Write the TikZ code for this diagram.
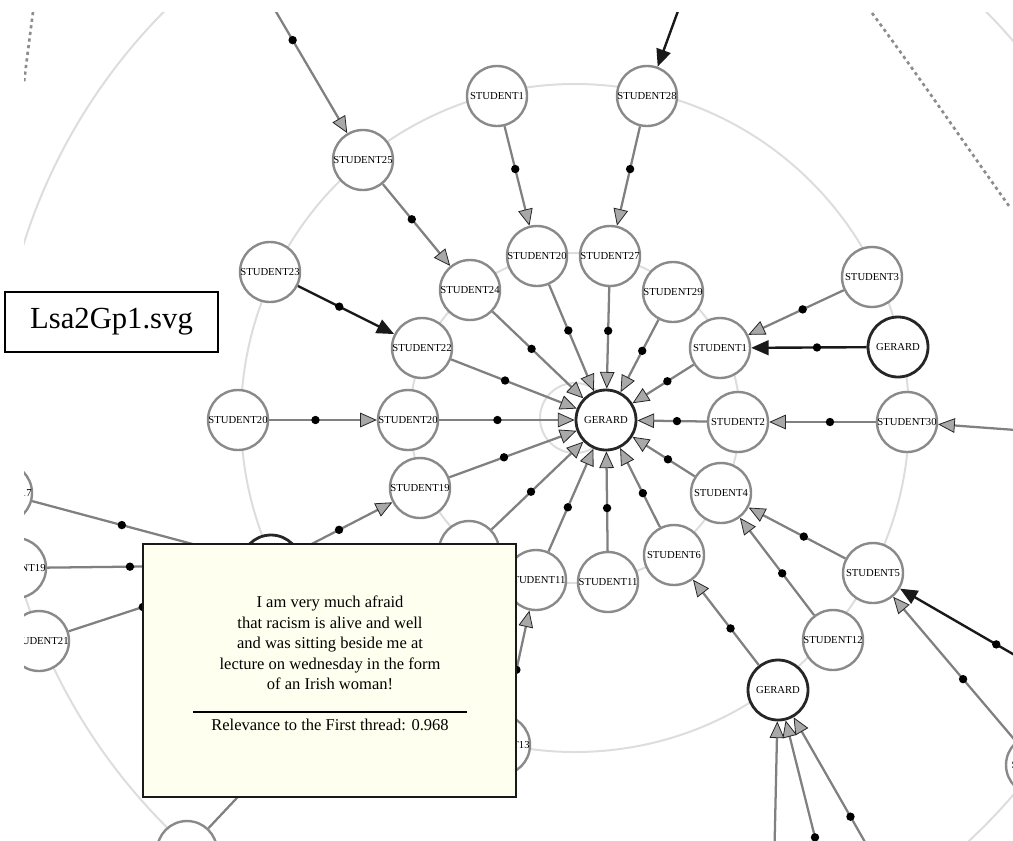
\documentclass[tikz,border=0pt]{standalone}
\usepackage{fontspec}
\setmainfont{Liberation Serif}
\usetikzlibrary{arrows.meta}
\definecolor{edgegray}{HTML}{808080}
\definecolor{nodegray}{HTML}{8A8A8A}
\definecolor{ringgray}{HTML}{DDDDDD}
\definecolor{headgray}{HTML}{A8A8A8}
\definecolor{popbg}{HTML}{FFFFF0}
\definecolor{dashgray}{HTML}{8C8C8C}
\newcommand\mylbl[1]{\makebox[0pt]{#1}}
\begin{document}
\begin{tikzpicture}[x=0.75pt,y=-0.75pt,
  stu/.style={circle,draw=nodegray,fill=white,line width=1.8pt,minimum size=45pt,inner sep=0pt,
              font=\fontsize{8}{9}\selectfont},
  ger/.style={stu,draw=black!85,line width=2.1pt},
  gedge/.style={draw=edgegray,line width=1.7pt,
     -{Triangle[length=12.5pt,width=11pt,line width=0.6pt,color=black!85,fill=headgray]}},
  bedge/.style={draw=black!90,line width=1.8pt,-{Triangle[length=13pt,width=11pt]}},
  dotm/.style={circle,fill=black,draw=none,inner sep=0pt,minimum size=6.3pt},
  ring/.style={draw=ringgray,line width=1.5pt},
  dashy/.style={draw=dashgray,line width=2pt,dash pattern=on 2.4pt off 2.6pt},
  popup/.style={draw=black!90,fill=popbg,line width=2.2pt,minimum width=279.75pt,minimum height=189.75pt,inner sep=0pt},
  poptext/.style={align=center,font=\fontsize{12.4}{15.4}\selectfont,inner sep=0pt},
  fnamebox/.style={draw=black,fill=white,line width=0.8pt,minimum width=159.75pt,minimum height=45pt,
     inner sep=0pt,font=\fontsize{23}{26}\selectfont}
]
\useasboundingbox (0,0) rectangle (1013,840);
\begin{scope}
\clip (24,12) rectangle (1013,840);
% rings
\draw[ring] (575,418) circle[radius=26.25pt];
\draw[ring] (575,418) circle[radius=123.75pt];
\draw[ring] (575,418) circle[radius=250.5pt];
\draw[ring] (575,418) circle[radius=433.5pt];
% dashed boundaries
\draw[dashy] (33,12) .. controls (30,35) and (27,58) .. (24,82);
\draw[dashy] (872,13) .. controls (920,78) and (962,140) .. (1009,206);
% nodes
\node[ger] (g0) at (606,420) {\mylbl{GERARD}};
\node[stu] (s20t) at (537,256) {\mylbl{STUDENT20}};
\node[stu] (s27) at (610,256) {\mylbl{STUDENT27}};
\node[stu] (s24) at (470,290) {\mylbl{STUDENT24}};
\node[stu] (s29) at (673,292) {\mylbl{STUDENT29}};
\node[stu] (s22) at (422,348) {\mylbl{STUDENT22}};
\node[stu] (s1r) at (720,348) {\mylbl{STUDENT1}};
\node[stu] (s20i) at (408,420) {\mylbl{STUDENT20}};
\node[stu] (s2) at (738,422) {\mylbl{STUDENT2}};
\node[stu] (s19) at (420,488) {\mylbl{STUDENT19}};
\node[stu] (s4) at (721,493) {\mylbl{STUDENT4}};
\node[stu] (h1) at (469,551) {};
\node[stu] (s6) at (674,555) {\mylbl{STUDENT6}};
\node[stu] (s11l) at (536,580) {\mylbl{STUDENT11}};
\node[stu] (s11) at (608,582) {\mylbl{STUDENT11}};
\node[stu] (s1t) at (497,96) {\mylbl{STUDENT1}};
\node[stu] (s28) at (647,96) {\mylbl{STUDENT28}};
\node[stu] (s25) at (363,160) {\mylbl{STUDENT25}};
\node[stu] (s23) at (270,272) {\mylbl{STUDENT23}};
\node[stu] (s3) at (872,277) {\mylbl{STUDENT3}};
\node[ger] (gr) at (898,347) {\mylbl{GERARD}};
\node[stu] (s20o) at (238,420) {\mylbl{STUDENT20}};
\node[stu] (s30) at (907,422) {\mylbl{STUDENT30}};
\node[ger] (hg) at (271,565) {};
\node[stu] (s5) at (873,573) {\mylbl{STUDENT5}};
\node[stu] (s12) at (833,640) {\mylbl{STUDENT12}};
\node[ger] (gb) at (778,690) {\mylbl{GERARD}};
\node[stu] (s13) at (500,745) {\mylbl{STUDENT13}};
\node[stu] (s17) at (2,493) {\mylbl{STUDENT17}};
\node[stu] (s19l) at (16,568) {\mylbl{STUDENT19}};
\node[stu] (s21) at (39,641) {\mylbl{STUDENT21}};
\node[stu] (nb) at (187,851) {};
\node[stu] (nr) at (1036,765) {\mylbl{STUDENT}};
\coordinate (c25) at (248,-36);
\coordinate (c28) at (733,-140);
\coordinate (c30) at (1152,440);
\coordinate (c5) at (1075,690);
\coordinate (cb1) at (772,961);
\coordinate (cb2) at (839,933);
\coordinate (cb3) at (897,898);
% edges into the central GERARD
\foreach \s in {s24,s20t,s27,s29,s1r,s2,s4,s6,s11,s11l,h1,s19,s20i,s22}
  \draw[gedge] (\s) -- node[dotm,pos=0.43]{} (g0);
% other edges
\draw[gedge] (s25) -- node[dotm,pos=0.43]{} (s24);
\draw[bedge] (s23) -- node[dotm,pos=0.43]{} (s22);
\draw[gedge] (s1t) -- node[dotm,pos=0.43]{} (s20t);
\draw[gedge] (s28) -- node[dotm,pos=0.43]{} (s27);
\draw[gedge] (s3) -- node[dotm,pos=0.43]{} (s1r);
\draw[bedge] (gr) -- node[dotm,pos=0.43]{} (s1r);
\draw[gedge] (s30) -- node[dotm,pos=0.43]{} (s2);
\draw[gedge] (s20o) -- node[dotm,pos=0.43]{} (s20i);
\draw[gedge] (s5) -- node[dotm,pos=0.43]{} (s4);
\draw[gedge] (s12) -- node[dotm,pos=0.43]{} (s4);
\draw[gedge] (gb) -- node[dotm,pos=0.43]{} (s6);
\draw[gedge] (hg) -- node[dotm,pos=0.43]{} (s19);
\draw[gedge] (s13) -- node[dotm,pos=0.43]{} (s11l);
\draw[gedge] (nr) -- node[dotm,pos=0.43]{} (s5);
\draw[gedge] (s17) -- node[dotm,pos=0.43]{} (hg);
\draw[gedge] (s19l) -- node[dotm,pos=0.43]{} (hg);
\draw[gedge] (s21) -- node[dotm,pos=0.43]{} (hg);
\draw[gedge] (nb) -- node[dotm,pos=0.43]{} (h1);
\draw[gedge] (c25) -- node[dotm,pos=0.45]{} (s25);
\draw[bedge] (c28) -- node[dotm,pos=0.45]{} (s28);
\draw[gedge] (c30) -- node[dotm,pos=0.45]{} (s30);
\draw[bedge] (c5) -- node[dotm,pos=0.45]{} (s5);
\draw[gedge] (cb1) -- node[dotm,pos=0.45]{} (gb);
\draw[gedge] (cb2) -- node[dotm,pos=0.45]{} (gb);
\draw[gedge] (cb3) -- node[dotm,pos=0.45]{} (gb);
% popup
\node[popup] (pop) at (329.5,670.5) {};
\node[poptext] (poptxt) at (330,643) {I am very much afraid\\that racism is alive and well\\and was sitting beside me at\\lecture on wednesday in the form\\of an Irish woman!};
\coordinate (rulel) at (193,712);
\coordinate (ruler) at (467,712);
\draw[line width=1.1pt,black] (rulel) -- (ruler);
\node[poptext] (relev) at (330,725) {Relevance to the First thread: 0.968};
\end{scope}
\node[fnamebox] (fname) at (111.5,322) {Lsa2Gp1.svg};
\end{tikzpicture}
\end{document}
